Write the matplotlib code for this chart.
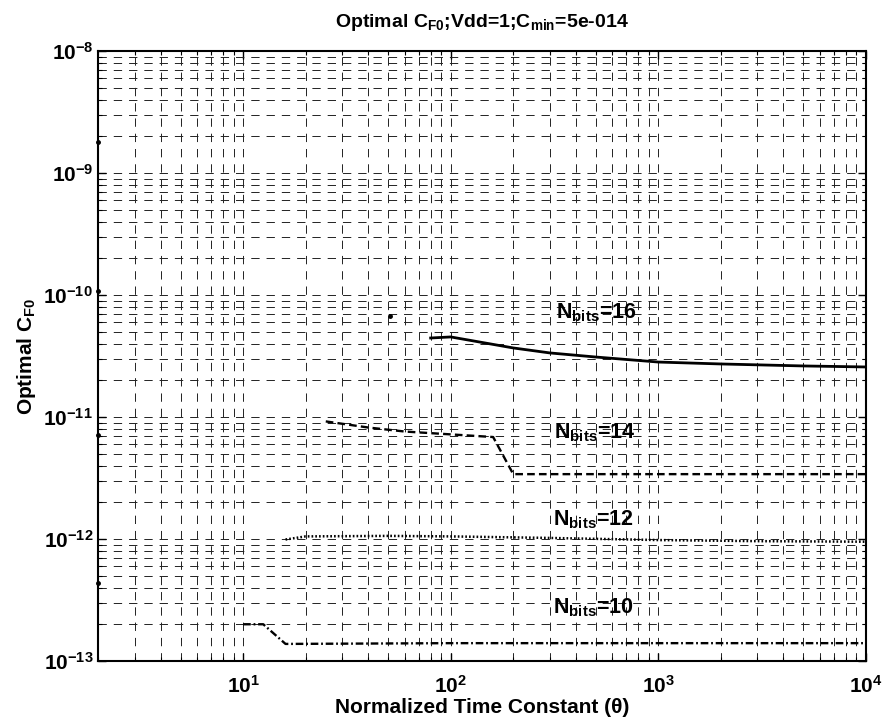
"""Optimal C_F0 vs normalized time constant, log-log, MATLAB-style grid."""
import math

import matplotlib

matplotlib.use("Agg")
import matplotlib.pyplot as plt  # noqa: E402
from matplotlib.ticker import FuncFormatter, LogLocator, NullFormatter  # noqa: E402

plt.rcParams["font.family"] = ["Liberation Sans", "DejaVu Sans"]
plt.rcParams["font.weight"] = "bold"
plt.rcParams["mathtext.fontset"] = "custom"
plt.rcParams["mathtext.rm"] = "Liberation Sans:bold"
plt.rcParams["mathtext.it"] = "Liberation Sans:bold"
plt.rcParams["mathtext.bf"] = "Liberation Sans:bold"
plt.rcParams["lines.scale_dashes"] = False

# curve data
theta16 = [80, 100, 200, 300, 500, 1000, 2000, 5000, 10000]
cf16 = [4.44e-11, 4.53e-11, 3.68e-11, 3.35e-11, 3.10e-11, 2.82e-11, 2.72e-11, 2.62e-11, 2.57e-11]

theta14 = [25, 40, 60, 100, 160, 200, 1000, 10000]
cf14 = [9.2e-12, 8.2e-12, 7.6e-12, 7.2e-12, 6.85e-12, 3.4e-12, 3.4e-12, 3.4e-12]

theta12 = [16, 20, 50, 100, 300, 1000, 3000, 10000]
cf12 = [0.99e-12, 1.05e-12, 1.06e-12, 1.05e-12, 1.02e-12, 0.98e-12, 0.96e-12, 0.95e-12]

theta10 = [10, 12.5, 16, 100, 1000, 10000]
cf10 = [2.0e-13, 2.0e-13, 1.38e-13, 1.4e-13, 1.4e-13, 1.4e-13]

# stray single points
dot_theta = [2, 2, 2, 2, 50.7]
dot_cf = [1.78e-9, 1.08e-10, 7.1e-12, 4.36e-13, 6.7e-11]

labels = ["16", "14", "12", "10"]
label_theta = [322, 315, 312, 310]
label_cf = [7.1e-11, 7.5e-12, 1.43e-12, 2.72e-13]

x_major = [10, 100, 1000, 10000]
y_major = [1e-13, 1e-12, 1e-11, 1e-10, 1e-9, 1e-8]

fig = plt.figure(figsize=(8.88, 7.22), dpi=100)
ax = fig.add_axes([0.1104, 0.0845, 0.8648, 0.8449])

ax.plot(theta16, cf16, color="black", lw=2.0, ls="-")
ax.plot(theta14, cf14, color="black", lw=1.7, dashes=(5.5, 3))
ax.plot(theta12, cf12, color="black", lw=1.8, dashes=(1.2, 1.5))
ax.plot(theta10, cf10, color="black", lw=1.7, dashes=(5.5, 2, 1.3, 2))
ax.plot(dot_theta, dot_cf, ls="none", marker="o", ms=2.5, color="black", clip_on=False)

for lab, tx, ty in zip(labels, label_theta, label_cf):
    ax.text(tx, ty, r"N$_{\mathrm{bits}}$=" + lab, fontsize=15.5, fontweight="bold",
            va="center", ha="left")

ax.set_xscale("log")
ax.set_yscale("log")
ax.set_xlim(2, 1e4)
ax.set_ylim(1e-13, 1e-8)

ax.set_xticks(x_major)
ax.set_yticks(y_major)
ax.xaxis.set_minor_locator(LogLocator(base=10, subs=range(2, 10), numticks=20))
ax.yaxis.set_minor_locator(LogLocator(base=10, subs=range(2, 10), numticks=20))
ax.xaxis.set_minor_formatter(NullFormatter())
ax.yaxis.set_minor_formatter(NullFormatter())


def _pow10(v, pos):
    return r"$10^{%d}$" % int(round(math.log10(v)))


ax.xaxis.set_major_formatter(FuncFormatter(_pow10))
ax.yaxis.set_major_formatter(FuncFormatter(_pow10))

ax.tick_params(which="both", direction="in", top=True, right=True, labelsize=15)
ax.tick_params(which="major", length=6, width=1)
ax.tick_params(which="minor", length=3, width=0.8)
ax.tick_params(axis="x", pad=10)

ax.grid(True, which="both", color="#222222", lw=0.7, dashes=(6, 5))
ax.set_axisbelow(True)
for s in ax.spines.values():
    s.set_linewidth(1.5)

ax.set_title(r"Optimal C$_{\mathrm{F0}}$;Vdd=1;C$_{\mathrm{min}}$=5e-014",
             fontsize=14, fontweight="bold", pad=17)
ax.set_xlabel("Normalized Time Constant (θ)", fontsize=15, fontweight="bold",
              labelpad=1)
ax.set_ylabel(r"Optimal C$_{\mathrm{F0}}$", fontsize=15, fontweight="bold")

fig.savefig("out.png", dpi=100)
